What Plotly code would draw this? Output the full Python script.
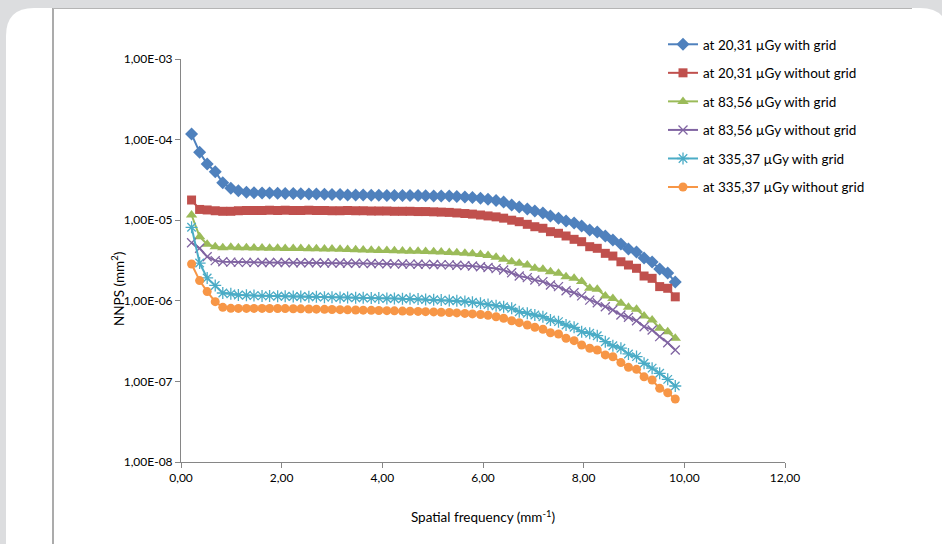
import plotly.graph_objects as go

# Spatial frequency (mm^-1)
freq = [0.21, 0.37, 0.52, 0.68, 0.83, 0.99, 1.14, 1.30, 1.45, 1.61,
        1.76, 1.92, 2.07, 2.23, 2.38, 2.54, 2.69, 2.85, 3.00, 3.16,
        3.31, 3.47, 3.62, 3.78, 3.93, 4.09, 4.24, 4.40, 4.55, 4.71,
        4.86, 5.02, 5.17, 5.33, 5.48, 5.64, 5.79, 5.95, 6.10, 6.26,
        6.41, 6.57, 6.72, 6.88, 7.03, 7.19, 7.34, 7.50, 7.65, 7.81,
        7.96, 8.12, 8.27, 8.43, 8.58, 8.74, 8.89, 9.05, 9.20, 9.36,
        9.51, 9.67, 9.82]

# NNPS values (mm^2)
nnps_20_grid = [1.17e-4, 6.95e-5, 4.98e-5, 4.00e-5, 2.92e-5, 2.49e-5, 2.32e-5, 2.22e-5,
                2.19e-5, 2.18e-5, 2.17e-5, 2.16e-5, 2.15e-5, 2.14e-5, 2.13e-5, 2.12e-5,
                2.11e-5, 2.10e-5, 2.09e-5, 2.08e-5, 2.06e-5, 2.05e-5, 2.05e-5, 2.04e-5,
                2.04e-5, 2.03e-5, 2.03e-5, 2.03e-5, 2.02e-5, 2.02e-5, 2.01e-5, 2.00e-5,
                2.00e-5, 1.99e-5, 1.97e-5, 1.94e-5, 1.91e-5, 1.87e-5, 1.82e-5, 1.76e-5,
                1.68e-5, 1.54e-5, 1.46e-5, 1.38e-5, 1.30e-5, 1.23e-5, 1.13e-5, 1.06e-5,
                9.77e-6, 9.23e-6, 8.47e-6, 7.55e-6, 7.14e-6, 6.37e-6, 5.68e-6, 5.07e-6,
                4.40e-6, 4.03e-6, 3.40e-6, 3.03e-6, 2.48e-6, 2.21e-6, 1.71e-6]

nnps_20_nogrid = [1.78e-5, 1.36e-5, 1.34e-5, 1.31e-5, 1.29e-5, 1.29e-5, 1.31e-5, 1.32e-5,
                  1.32e-5, 1.32e-5, 1.33e-5, 1.32e-5, 1.33e-5, 1.32e-5, 1.32e-5, 1.33e-5,
                  1.32e-5, 1.32e-5, 1.31e-5, 1.31e-5, 1.32e-5, 1.31e-5, 1.31e-5, 1.30e-5,
                  1.30e-5, 1.30e-5, 1.29e-5, 1.29e-5, 1.29e-5, 1.28e-5, 1.28e-5, 1.27e-5,
                  1.26e-5, 1.25e-5, 1.23e-5, 1.21e-5, 1.19e-5, 1.16e-5, 1.13e-5, 1.10e-5,
                  1.06e-5, 1.00e-5, 9.58e-6, 8.89e-6, 8.30e-6, 7.94e-6, 7.20e-6, 6.88e-6,
                  6.37e-6, 5.79e-6, 5.41e-6, 4.69e-6, 4.48e-6, 3.88e-6, 3.59e-6, 3.05e-6,
                  2.78e-6, 2.53e-6, 2.03e-6, 1.90e-6, 1.50e-6, 1.43e-6, 1.12e-6]

nnps_83_grid = [1.16e-5, 6.25e-6, 5.02e-6, 4.69e-6, 4.56e-6, 4.61e-6, 4.56e-6, 4.55e-6,
                4.53e-6, 4.52e-6, 4.50e-6, 4.49e-6, 4.47e-6, 4.46e-6, 4.45e-6, 4.43e-6,
                4.41e-6, 4.40e-6, 4.38e-6, 4.36e-6, 4.33e-6, 4.30e-6, 4.27e-6, 4.25e-6,
                4.22e-6, 4.20e-6, 4.18e-6, 4.16e-6, 4.13e-6, 4.11e-6, 4.08e-6, 4.05e-6,
                4.02e-6, 3.98e-6, 3.94e-6, 3.89e-6, 3.83e-6, 3.75e-6, 3.64e-6, 3.48e-6,
                3.27e-6, 3.05e-6, 2.92e-6, 2.78e-6, 2.53e-6, 2.46e-6, 2.30e-6, 2.19e-6,
                1.99e-6, 1.90e-6, 1.73e-6, 1.43e-6, 1.39e-6, 1.15e-6, 1.07e-6, 9.31e-7,
                8.30e-7, 7.85e-7, 6.48e-7, 5.78e-7, 4.56e-7, 4.14e-7, 3.43e-7]

nnps_83_nogrid = [5.26e-6, 4.48e-6, 3.52e-6, 3.15e-6, 3.05e-6, 3.02e-6, 3.00e-6, 3.00e-6,
                  3.00e-6, 2.99e-6, 2.99e-6, 2.98e-6, 2.98e-6, 2.97e-6, 2.97e-6, 2.96e-6,
                  2.96e-6, 2.95e-6, 2.95e-6, 2.94e-6, 2.93e-6, 2.92e-6, 2.91e-6, 2.90e-6,
                  2.89e-6, 2.88e-6, 2.87e-6, 2.86e-6, 2.85e-6, 2.84e-6, 2.83e-6, 2.82e-6,
                  2.81e-6, 2.79e-6, 2.76e-6, 2.73e-6, 2.70e-6, 2.65e-6, 2.59e-6, 2.51e-6,
                  2.41e-6, 2.23e-6, 2.03e-6, 1.94e-6, 1.81e-6, 1.73e-6, 1.57e-6, 1.50e-6,
                  1.33e-6, 1.26e-6, 1.15e-6, 1.02e-6, 9.47e-7, 8.45e-7, 7.69e-7, 6.67e-7,
                  6.24e-7, 5.66e-7, 4.77e-7, 4.35e-7, 3.59e-7, 3.02e-7, 2.45e-7]

nnps_335_grid = [8.16e-6, 2.94e-6, 1.92e-6, 1.55e-6, 1.25e-6, 1.22e-6, 1.18e-6, 1.17e-6,
                 1.16e-6, 1.15e-6, 1.15e-6, 1.14e-6, 1.14e-6, 1.13e-6, 1.13e-6, 1.12e-6,
                 1.12e-6, 1.11e-6, 1.11e-6, 1.10e-6, 1.10e-6, 1.09e-6, 1.09e-6, 1.08e-6,
                 1.08e-6, 1.07e-6, 1.07e-6, 1.06e-6, 1.06e-6, 1.05e-6, 1.04e-6, 1.03e-6,
                 1.02e-6, 1.01e-6, 1.00e-6, 9.80e-7, 9.60e-7, 9.30e-7, 9.00e-7, 8.70e-7,
                 8.45e-7, 8.07e-7, 7.33e-7, 7.00e-7, 6.67e-7, 6.35e-7, 5.78e-7, 5.51e-7,
                 5.01e-7, 4.69e-7, 4.14e-7, 3.95e-7, 3.69e-7, 3.11e-7, 2.77e-7, 2.58e-7,
                 2.19e-7, 2.03e-7, 1.68e-7, 1.46e-7, 1.26e-7, 1.06e-7, 8.77e-8]

nnps_335_nogrid = [2.86e-6, 1.78e-6, 1.30e-6, 9.75e-7, 8.30e-7, 8.07e-7, 8.05e-7, 8.05e-7,
                   8.05e-7, 8.04e-7, 8.03e-7, 8.02e-7, 8.00e-7, 7.98e-7, 7.95e-7, 7.92e-7,
                   7.88e-7, 7.84e-7, 7.80e-7, 7.76e-7, 7.72e-7, 7.69e-7, 7.66e-7, 7.62e-7,
                   7.58e-7, 7.54e-7, 7.50e-7, 7.46e-7, 7.42e-7, 7.38e-7, 7.33e-7, 7.28e-7,
                   7.22e-7, 7.16e-7, 7.08e-7, 6.98e-7, 6.88e-7, 6.76e-7, 6.60e-7, 6.35e-7,
                   6.07e-7, 5.66e-7, 5.35e-7, 5.01e-7, 4.69e-7, 4.43e-7, 4.02e-7, 3.87e-7,
                   3.43e-7, 3.20e-7, 2.83e-7, 2.58e-7, 2.45e-7, 2.13e-7, 2.02e-7, 1.71e-7,
                   1.50e-7, 1.41e-7, 1.14e-7, 1.04e-7, 8.20e-8, 7.24e-8, 6.05e-8]

series_names = ["at 20,31 µGy with grid", "at 20,31 µGy without grid",
                "at 83,56 µGy with grid", "at 83,56 µGy without grid",
                "at 335,37 µGy with grid", "at 335,37 µGy without grid"]
series_values = [nnps_20_grid, nnps_20_nogrid, nnps_83_grid,
                 nnps_83_nogrid, nnps_335_grid, nnps_335_nogrid]

x_tickvals = [0, 2, 4, 6, 8, 10, 12]
x_ticktext = ["0,00", "2,00", "4,00", "6,00", "8,00", "10,00", "12,00"]
y_tickvals = [1e-8, 1e-7, 1e-6, 1e-5, 1e-4, 1e-3]
y_ticktext = ["1,00E-08", "1,00E-07", "1,00E-06", "1,00E-05", "1,00E-04", "1,00E-03"]

colors = ["#4F81BD", "#C0504D", "#9BBB59", "#8064A2", "#4BACC6", "#F79646"]
symbols = ["diamond", "square", "triangle-up", "x-thin-open", "asterisk-open", "circle"]
msizes = [10, 9, 10, 9, 10, 9]

fig = go.Figure()
for i, (name, vals) in enumerate(zip(series_names, series_values)):
    marker = dict(symbol=symbols[i], size=msizes[i], color=colors[i])
    if symbols[i].endswith("open"):
        marker["line"] = dict(color=colors[i], width=1.3)
    fig.add_trace(go.Scatter(
        x=freq, y=vals, name=name, mode="lines+markers",
        line=dict(color=colors[i], width=2),
        marker=marker, legendgroup=f"g{i}",
    ))

# pixel geometry helpers for decoration
L, R, T, B = 181, 785, 59, 462
W, H = R - L, B - T
def px(x):
    return (x - L) / W
def py(y):
    return (B - y) / H

# rounded white card
x0, x1, y0, y1, r = 6, 948, 8, 580, 28
rx, ry = r / W, r / H
card = (f"M {px(x0)+rx},{py(y0)} L {px(x1)-rx},{py(y0)} "
        f"Q {px(x1)},{py(y0)} {px(x1)},{py(y0)-ry} "
        f"L {px(x1)},{py(y1)+ry} Q {px(x1)},{py(y1)} {px(x1)-rx},{py(y1)} "
        f"L {px(x0)+rx},{py(y1)} Q {px(x0)},{py(y1)} {px(x0)},{py(y1)+ry} "
        f"L {px(x0)},{py(y0)-ry} Q {px(x0)},{py(y0)} {px(x0)+rx},{py(y0)} Z")

shapes = [
    dict(type="path", xref="paper", yref="paper", path=card,
         fillcolor="white", line=dict(width=0), layer="below"),
    dict(type="line", xref="paper", yref="paper", x0=px(53), x1=px(53),
         y0=py(8), y1=py(560), line=dict(color="#8f8f8f", width=1.5), layer="below"),
    dict(type="line", xref="paper", yref="paper", x0=px(53), x1=px(912),
         y0=py(8.5), y1=py(8.5), line=dict(color="#b5b5b5", width=1.2), layer="below"),
]

font_family = "Lato, 'Open Sans', sans-serif"
fig.update_layout(
    width=942, height=544,
    margin=dict(l=L, r=942 - R, t=T, b=544 - B),
    paper_bgcolor="#dcdddf",
    plot_bgcolor="rgba(0,0,0,0)",
    font=dict(family=font_family, color="#000000", size=12),
    shapes=shapes,
    showlegend=True,
    legend=dict(x=px(663), y=py(29), xanchor="left", yanchor="top",
                font=dict(size=13.5, family=font_family), tracegroupgap=8,
                bgcolor="rgba(0,0,0,0)", itemwidth=30),
    xaxis=dict(range=[0, 12], tickvals=x_tickvals, ticktext=x_ticktext,
               showgrid=False, zeroline=False, showline=True,
               linecolor="#868686", linewidth=1, ticks="outside",
               tickcolor="#868686", ticklen=5,
               tickfont=dict(size=12),
               title=dict(text="Spatial frequency (mm<sup>-1</sup>)",
                          font=dict(size=13.5), standoff=28)),
    yaxis=dict(type="log", range=[-8, -3], tickvals=y_tickvals, ticktext=y_ticktext,
               showgrid=False, zeroline=False, showline=True,
               linecolor="#868686", linewidth=1, ticks="outside",
               tickcolor="#868686", ticklen=5,
               tickfont=dict(size=12)),
    annotations=[dict(text="NNPS (mm<sup>2</sup>)", textangle=-90,
                      xref="paper", yref="paper", x=px(118), y=py(289),
                      xanchor="center", yanchor="middle", showarrow=False,
                      font=dict(size=13.5, family=font_family))],
)

fig.write_html("out.html", config={"displayModeBar": False},
               post_script="document.body.style.margin='0';document.body.style.overflow='hidden';")
